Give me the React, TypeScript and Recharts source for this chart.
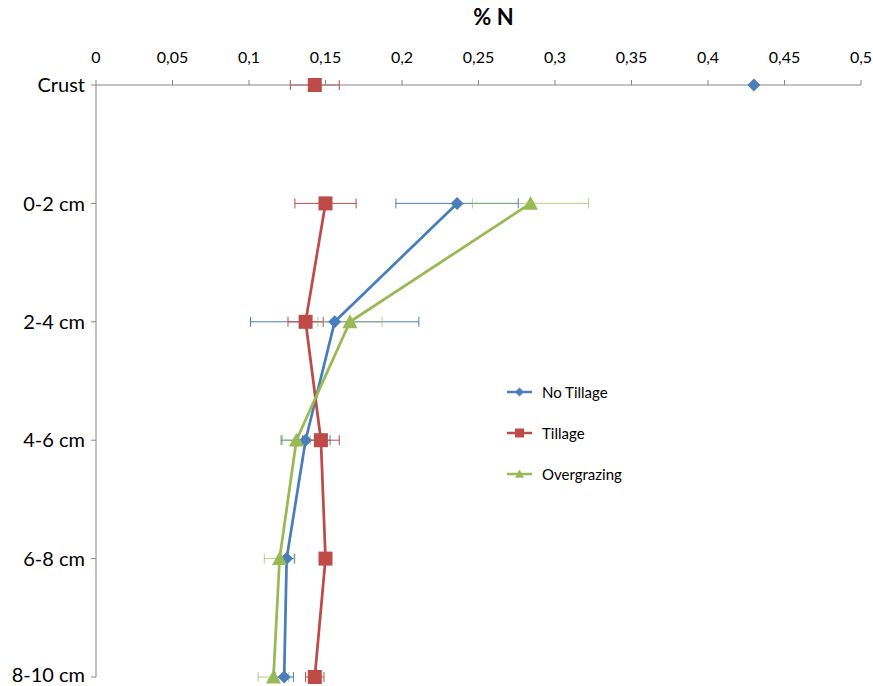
import React from 'react';
import { ScatterChart, Scatter, XAxis, YAxis, ErrorBar, Label } from 'recharts';

const DEPTHS = ['Crust', '0-2 cm', '2-4 cm', '4-6 cm', '6-8 cm', '8-10 cm'];
const X_TICKS = [0, 0.05, 0.1, 0.15, 0.2, 0.25, 0.3, 0.35, 0.4, 0.45, 0.5];

// % N per depth (index matches DEPTHS), with symmetric error
const NO_TILLAGE = [0.43, 0.236, 0.156, 0.137, 0.1246, 0.123];
const NO_TILLAGE_ERR = [0, 0.04, 0.055, 0.016, 0.005, 0.006];
const TILLAGE = [0.143, 0.15, 0.137, 0.147, 0.15, 0.143];
const TILLAGE_ERR = [0.016, 0.02, 0.0115, 0.012, 0.003, 0.006];
const OVERGRAZING = [null, 0.284, 0.166, 0.131, 0.12, 0.116];
const OVERGRAZING_ERR = [null, 0.038, 0.021, 0.009, 0.01, 0.01];

const BLUE = '#4A7EBB';
const RED = '#BE4B48';
const GREEN = '#98B954';

const FONT = 'Lato, "Open Sans", sans-serif';
const AXIS_GREY = '#868686';

type Pt = { x: number; y: number; err: number };

// crust is plotted on its own, the depth profile (0-2 .. 8-10) is joined by a line
function points(vals: (number | null)[], errs: (number | null)[], from: number, to: number): Pt[] {
  const out: Pt[] = [];
  for (let i = from; i < to; i++) {
    const v = vals[i];
    if (v == null) continue;
    out.push({ x: v, y: i, err: errs[i] ?? 0 });
  }
  return out;
}

const Diamond = (color: string, r: number) => (p: any) => (
  <path
    d={`M${p.cx},${p.cy - r}L${p.cx + r},${p.cy}L${p.cx},${p.cy + r}L${p.cx - r},${p.cy}Z`}
    fill={color}
  />
);
const Square = (color: string, r: number) => (p: any) => (
  <rect x={p.cx - r} y={p.cy - r} width={r * 2} height={r * 2} fill={color} />
);
const Triangle = (color: string, r: number) => (p: any) => (
  <path
    d={`M${p.cx},${p.cy - r}L${p.cx + r},${p.cy + r * 0.85}L${p.cx - r},${p.cy + r * 0.85}Z`}
    fill={color}
  />
);

const SERIES = [
  { name: 'No Tillage', color: BLUE, marker: Diamond },
  { name: 'Tillage', color: RED, marker: Square },
  { name: 'Overgrazing', color: GREEN, marker: Triangle },
];

function LegendBox() {
  return (
    <div
      style={{
        position: 'absolute',
        left: 505,
        top: 371,
        fontFamily: FONT,
        fontSize: 15,
        color: '#000',
      }}
    >
      {SERIES.map((s) => (
        <div key={s.name} style={{ display: 'flex', alignItems: 'center', height: 41 }}>
          <svg width={37} height={14}>
            <line x1={2} y1={7} x2={27} y2={7} stroke={s.color} strokeWidth={2.5} />
            {s.marker(s.color, 4.5)({ cx: 14.5, cy: 7 })}
          </svg>
          <span>{s.name}</span>
        </div>
      ))}
    </div>
  );
}

const fmt = (v: number) => String(Number(v.toFixed(2))).replace('.', ',');

export default function App() {
  const series = [
    { key: 'nt', vals: NO_TILLAGE, errs: NO_TILLAGE_ERR, ...SERIES[0], r: 6.5 },
    { key: 'ti', vals: TILLAGE, errs: TILLAGE_ERR, ...SERIES[1], r: 7 },
    { key: 'og', vals: OVERGRAZING, errs: OVERGRAZING_ERR, ...SERIES[2], r: 7.5 },
  ];

  return (
    <div style={{ position: 'absolute', left: 0, top: 0, width: 873, height: 686, background: '#fff' }}>
      <ScatterChart
        width={873}
        height={686}
        margin={{ top: 0, right: 12, bottom: 9, left: 0 }}
        style={{ fontFamily: FONT }}
      >
        <XAxis
          type="number"
          dataKey="x"
          orientation="top"
          domain={[0, 0.5]}
          ticks={X_TICKS}
          tickFormatter={fmt}
          height={85}
          stroke={AXIS_GREY}
          tickSize={5}
          tickMargin={17}
          tick={{ fill: '#000', fontSize: 16 }}
          allowDataOverflow
        >
          <Label
            value="% N"
            position="insideTop"
            offset={9}
            dx={15}
            style={{ fontSize: 22, fontWeight: 700, fill: '#000' }}
          />
        </XAxis>
        <YAxis
          type="number"
          dataKey="y"
          domain={[0, 5]}
          reversed
          ticks={[0, 1, 2, 3, 4, 5]}
          tickFormatter={(i: number) => DEPTHS[i]}
          width={96}
          stroke={AXIS_GREY}
          tickSize={5}
          tickMargin={6}
          tick={{ fill: '#000', fontSize: 20 }}
        />
        {series.map((s) => (
          <Scatter
            key={s.key}
            name={s.name}
            data={points(s.vals, s.errs, 1, 6)}
            fill={s.color}
            line={{ stroke: s.color, strokeWidth: 2.75 }}
            shape={s.marker(s.color, s.r)}
            isAnimationActive={false}
            legendType="none"
          >
            <ErrorBar
              dataKey="err"
              direction="x"
              width={5}
              stroke={s.color}
              strokeWidth={1}
              strokeOpacity={s.key === 'og' ? 0.7 : 1}
              isAnimationActive={false}
            />
          </Scatter>
        ))}
        {series.map((s) => (
          <Scatter
            key={s.key + '-crust'}
            name={s.name + ' crust'}
            data={points(s.vals, s.errs, 0, 1)}
            fill={s.color}
            shape={s.marker(s.color, s.r)}
            isAnimationActive={false}
            legendType="none"
          >
            <ErrorBar
              dataKey="err"
              direction="x"
              width={5}
              stroke={s.color}
              strokeWidth={1}
              isAnimationActive={false}
            />
          </Scatter>
        ))}
      </ScatterChart>
      <LegendBox />
    </div>
  );
}
